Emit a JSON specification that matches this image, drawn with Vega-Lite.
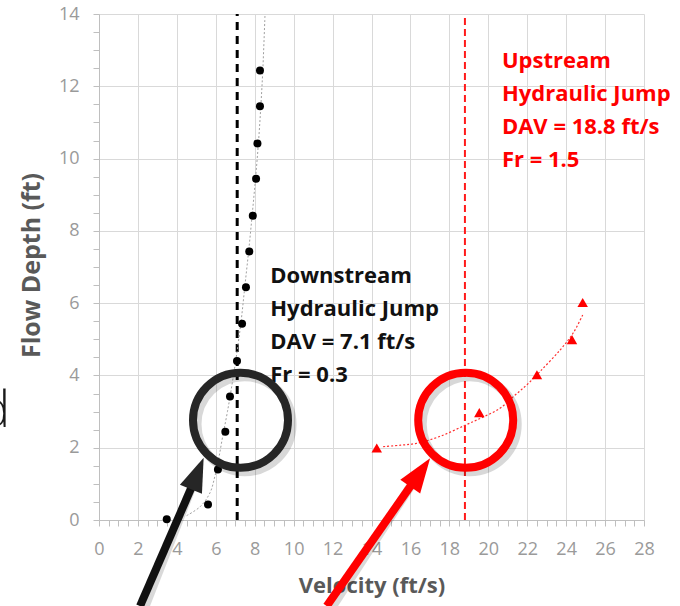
{
  "$schema": "https://vega.github.io/schema/vega-lite/v6.json",
  "autosize": "none",
  "width": 545,
  "height": 506,
  "padding": {"left": 99, "top": 14, "right": 36, "bottom": 86},
  "background": "white",
  "config": {
    "view": {"stroke": null},
    "axis": {
      "labelFont": "Open Sans", "labelFontSize": 18, "labelColor": "#9a9a9a",
      "titleFont": "Open Sans", "titleFontSize": 22, "titleFontWeight": "bold", "titleColor": "#595959",
      "domainColor": "#bfbfbf", "tickColor": "#bfbfbf", "tickSize": 6, "gridColor": "#d9d9d9", "labelOverlap": false
    }
  },
  "datasets": {
    "down": [
      {"v": 3.48, "d": 0.02}, {"v": 5.6, "d": 0.43}, {"v": 6.11, "d": 1.4}, {"v": 6.49, "d": 2.44},
      {"v": 6.73, "d": 3.42}, {"v": 7.09, "d": 4.4}, {"v": 7.35, "d": 5.43}, {"v": 7.55, "d": 6.44},
      {"v": 7.72, "d": 7.43}, {"v": 7.9, "d": 8.42}, {"v": 8.07, "d": 9.44}, {"v": 8.14, "d": 10.42},
      {"v": 8.27, "d": 11.45}, {"v": 8.27, "d": 12.44}
    ],
    "downTrend": [
      {"v": 4.5, "d": 0.12}, {"v": 5.2, "d": 0.37}, {"v": 5.7, "d": 0.75}, {"v": 5.95, "d": 1.2},
      {"v": 6.15, "d": 1.7}, {"v": 6.35, "d": 2.3}, {"v": 6.6, "d": 3.0}, {"v": 6.85, "d": 3.8},
      {"v": 7.05, "d": 4.5}, {"v": 7.3, "d": 5.5}, {"v": 7.5, "d": 6.5}, {"v": 7.7, "d": 7.5},
      {"v": 7.88, "d": 8.5}, {"v": 8.05, "d": 9.5}, {"v": 8.2, "d": 10.5}, {"v": 8.32, "d": 11.5},
      {"v": 8.42, "d": 12.5}, {"v": 8.53, "d": 14}
    ],
    "up": [
      {"v": 14.27, "d": 1.99}, {"v": 19.54, "d": 2.97}, {"v": 22.5, "d": 4.02}, {"v": 24.3, "d": 4.99}, {"v": 24.85, "d": 6.02}
    ],
    "upTrend": [
      {"v": 14.6, "d": 2.03}, {"v": 15.5, "d": 2.07}, {"v": 16.3, "d": 2.12}, {"v": 17.5, "d": 2.31},
      {"v": 18.8, "d": 2.62}, {"v": 19.7, "d": 2.84}, {"v": 20.6, "d": 3.09}, {"v": 21.3, "d": 3.42},
      {"v": 22.0, "d": 3.75}, {"v": 22.66, "d": 4.11}, {"v": 23.7, "d": 4.71}, {"v": 24.37, "d": 5.18},
      {"v": 24.9, "d": 5.73}
    ],
    "dav": [
      {"v": 7.1, "d": 0, "d2": 14, "g": "Downstream"},
      {"v": 18.8, "d": 0, "d2": 14, "g": "Upstream"}
    ],
    "circles": [
      {"v": 7.27, "d": 2.76, "g": "Downstream"},
      {"v": 18.84, "d": 2.76, "g": "Upstream"}
    ],
    "shafts": [
      {"v": 2.107, "d": -2.382, "v2": 4.83, "d2": 0.997, "g": "Downstream"},
      {"v": 11.7, "d": -2.382, "v2": 16.08, "d2": 0.997, "g": "Upstream"}
    ],
    "notes": [
      {"v": 8.8, "d": 6.565, "t": "Downstream\nHydraulic Jump\nDAV = 7.1 ft/s\nFr = 0.3", "g": "Downstream"},
      {"v": 20.7, "d": 12.51, "t": "Upstream\nHydraulic Jump\nDAV = 18.8 ft/s\nFr = 1.5", "g": "Upstream"}
    ]
  },
  "encoding": {
    "x": {"field": "v", "type": "quantitative", "title": "Velocity (ft/s)",
      "scale": {"domain": [0, 28], "nice": false},
      "axis": {
        "values": [0,0.5,1,1.5,2,2.5,3,3.5,4,4.5,5,5.5,6,6.5,7,7.5,8,8.5,9,9.5,10,10.5,11,11.5,12,12.5,13,13.5,14,14.5,15,15.5,16,16.5,17,17.5,18,18.5,19,19.5,20,20.5,21,21.5,22,22.5,23,23.5,24,24.5,25,25.5,26,26.5,27,27.5,28],
        "labelExpr": "datum.value % 2 === 0 ? format(datum.value, 'd') : ''",
        "labelOverlap": false, "labelBound": false, "labelFlush": false,
        "grid": true,
        "gridOpacity": {"condition": {"test": "datum.value % 2 === 0", "value": 1}, "value": 0},
        "labelPadding": 14,
        "titleBaseline": "alphabetic", "titleY": 72
      }},
    "y": {"field": "d", "type": "quantitative", "title": "Flow Depth (ft)",
      "scale": {"domain": [0, 14], "nice": false},
      "axis": {
        "values": [0,0.5,1,1.5,2,2.5,3,3.5,4,4.5,5,5.5,6,6.5,7,7.5,8,8.5,9,9.5,10,10.5,11,11.5,12,12.5,13,13.5,14],
        "labelExpr": "datum.value % 2 === 0 ? format(datum.value, 'd') : ''",
        "labelOverlap": false, "labelBound": false, "labelFlush": false,
        "grid": true,
        "gridOpacity": {"condition": {"test": "datum.value % 2 === 0", "value": 1}, "value": 0},
        "labelPadding": 14,
        "titleFontSize": 25,
        "titleAngle": -90, "titleBaseline": "alphabetic", "titleX": -60, "titleY": 251, "titleAlign": "center"
      }}
  },
  "layer": [
    {
      "data": {"name": "dav"},
      "mark": {"type": "rule", "strokeWidth": 3, "strokeDash": [8, 6]},
      "transform": [{"filter": "datum.g === 'Downstream'"}],
      "encoding": {"y2": {"field": "d2"}, "color": {"value": "#000000"}}
    },
    {
      "data": {"name": "dav"},
      "mark": {"type": "rule", "strokeWidth": 2, "strokeDash": [7, 4]},
      "transform": [{"filter": "datum.g === 'Upstream'"}],
      "encoding": {"y2": {"field": "d2"}, "color": {"value": "#ff1a1a"}}
    },
    {
      "data": {"name": "downTrend"},
      "mark": {"type": "line", "color": "#a0a0a0", "strokeWidth": 1, "strokeDash": [2, 2], "interpolate": "catmull-rom"},
      "encoding": {"order": {"field": "d", "type": "quantitative"}}
    },
    {
      "data": {"name": "upTrend"},
      "mark": {"type": "line", "color": "#ff3030", "strokeWidth": 1.2, "strokeDash": [2, 2], "interpolate": "catmull-rom"},
      "encoding": {"order": {"field": "v", "type": "quantitative"}}
    },
    {
      "data": {"name": "down"},
      "mark": {"type": "point", "shape": "circle", "filled": true, "color": "#000000", "size": 64, "opacity": 1}
    },
    {
      "data": {"name": "up"},
      "mark": {"type": "point", "shape": "triangle-up", "filled": true, "color": "#ff0000", "size": 110, "opacity": 1}
    },
    {
      "data": {"name": "notes"},
      "mark": {"type": "text", "align": "left", "baseline": "alphabetic", "font": "Open Sans", "fontSize": 22, "fontWeight": "bold", "lineBreak": "\n", "lineHeight": 33},
      "encoding": {
        "text": {"field": "t"},
        "color": {"field": "g", "type": "nominal", "scale": {"domain": ["Downstream", "Upstream"], "range": ["#111111", "#ff0000"]}, "legend": null}
      }
    },
    {
      "data": {"name": "circles"},
      "mark": {"type": "point", "shape": "circle", "filled": false, "stroke": "#000000", "strokeWidth": 9, "size": 9025, "opacity": 0.15, "xOffset": 4, "yOffset": 4}
    },
    {
      "data": {"name": "shafts"},
      "mark": {"type": "rule", "color": "#000000", "strokeWidth": 9, "opacity": 0.15, "xOffset": 4, "yOffset": 3},
      "encoding": {"x2": {"field": "v2"}, "y2": {"field": "d2"}}
    },
    {
      "data": {"name": "circles"},
      "mark": {"type": "point", "shape": "circle", "filled": false, "strokeWidth": 8, "size": 9025, "opacity": 1},
      "encoding": {
        "stroke": {"field": "g", "type": "nominal", "scale": {"domain": ["Downstream", "Upstream"], "range": ["#262626", "#ff0000"]}, "legend": null}
      }
    },
    {
      "data": {"name": "shafts"},
      "mark": {"type": "rule", "strokeWidth": 8},
      "encoding": {
        "x2": {"field": "v2"},
        "y2": {"field": "d2"},
        "color": {"field": "g", "type": "nominal", "scale": {"domain": ["Downstream", "Upstream"], "range": ["#262626", "#ff0000"]}, "legend": null}
      }
    },
    {
      "data": {"values": [{"v": 5.05, "d": 1.285}]},
      "mark": {"type": "point", "shape": "M -0.7 1 L 0.7 1 L 0 -1 Z", "filled": true, "color": "#262626", "size": 1150, "angle": 22, "opacity": 1}
    },
    {
      "data": {"values": [{"v": 16.5, "d": 1.316}]},
      "mark": {"type": "point", "shape": "M -0.7 1 L 0.7 1 L 0 -1 Z", "filled": true, "color": "#ff0000", "size": 1200, "angle": 35, "opacity": 1}
    },
    {
      "data": {"values": [{"v": -4.57, "d": 2.58, "t": "d"}]},
      "mark": {"type": "text", "align": "right", "baseline": "alphabetic", "font": "Open Sans", "fontSize": 50, "fontWeight": 300, "color": "#1a1a1a"},
      "encoding": {"text": {"field": "t"}}
    }
  ]
}
